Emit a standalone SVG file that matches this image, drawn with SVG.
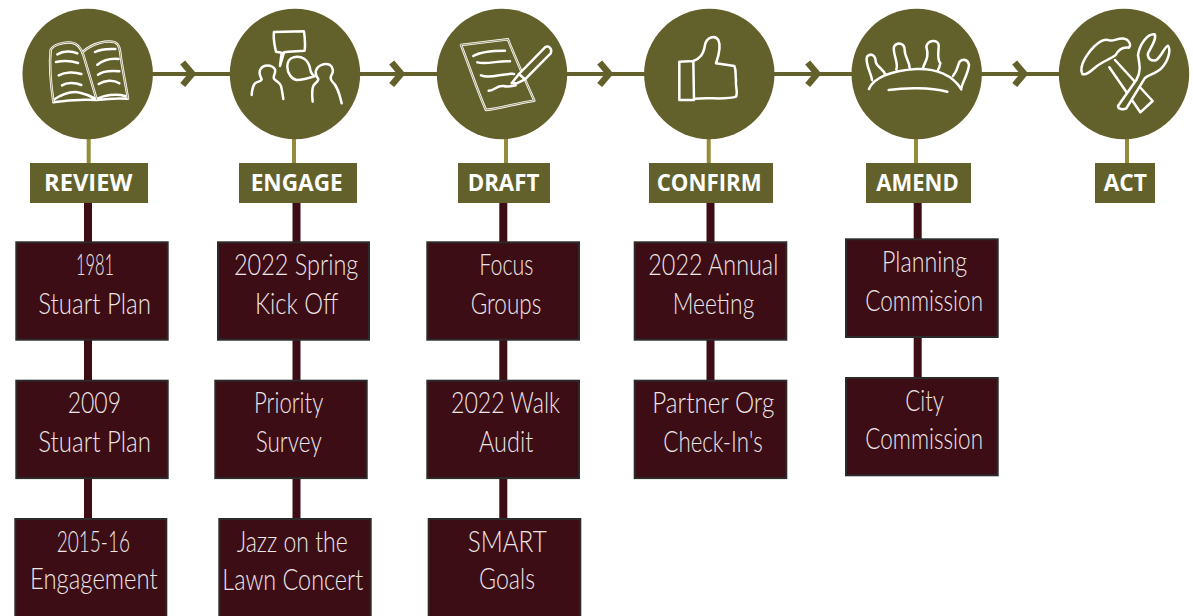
<svg xmlns="http://www.w3.org/2000/svg" width="1193" height="616" viewBox="0 0 1193 616">
<style>
.flow{stroke:#63612b;stroke-width:4;fill:none}
.chev{stroke:#63612b;stroke-width:6.500;fill:none;stroke-miterlimit:8}
.stem{stroke:#948c3b;stroke-width:4;fill:none}
.link{stroke:#3c0d15;stroke-width:8;fill:none}
.circle{fill:#63612b}
.tag{fill:#63612b}
.box{fill:#3c0d15;stroke:#2c2a2b;stroke-width:2}
.tagtext{font-family:"Open Sans","Liberation Sans",sans-serif;font-weight:700;font-size:22.5px;fill:#fff}
.boxtext{font-family:"Lato","Liberation Sans",sans-serif;font-weight:300;font-size:30px;fill:#ece6e6}
.icon{fill:none;stroke:#fff;stroke-width:7.500;stroke-linecap:round;stroke-linejoin:round}
.gap{fill:none;stroke:#63612b;stroke-width:2;stroke-linecap:round;stroke-linejoin:round}
.solid{fill:#63612b}
</style>
<defs>
<path id="chevron" class="chev" d="M182.700 62.500L192.200 73.800L182.700 85"/>
</defs>
<g id="connectors">
<path class="flow" d="M88 74H1124"/>
<use href="#chevron"/>
<use href="#chevron" x="209"/>
<use href="#chevron" x="417"/>
<use href="#chevron" x="625"/>
<use href="#chevron" x="832"/>
<path class="stem" d="M88.700 135V165M294 135V165M506 135V165M708.700 135V165M916 135V165M1127 135V165"/>
<path class="link" d="M88 203V520M296.500 203V520M503.300 203V520M710.500 203V382M917.700 203V380"/>
</g>
<g id="step-review">
<circle class="circle" cx="87.700" cy="74" r="65.200"/>
<g transform="scale(.33333)">
<path class="icon" d="M160 305C152 250 148 190 152 150C158 135 190 125 215 128C235 130 245 150 250 165L290 298M250 155C275 130 320 120 345 127C358 132 360 150 363 175C370 220 378 260 384 296M160 307C200 300 250 298 290 300C320 296 350 294 384 296M160 300C190 280 215 272 240 278C260 282 280 292 290 298C310 285 350 280 375 288"/>
<path class="gap" d="M160 305C152 250 148 190 152 150C158 135 190 125 215 128C235 130 245 150 250 165L290 298M250 155C275 130 320 120 345 127C358 132 360 150 363 175C370 220 378 260 384 296"/>
<path class="icon" d="M172 163C190 152 215 152 232 160M168 186C190 182 215 183 234 189M176 226C195 215 225 215 244 222M186 256C200 247 225 247 244 255M285 156C300 148 325 146 346 147M292 194C310 180 335 175 356 177M294 224C310 212 335 212 358 214M296 252C315 240 340 238 358 250"/>
</g>
<rect class="tag" x="30" y="163" width="118" height="40"/>
<text class="tagtext" x="44" y="190.700" textLength="88.300" lengthAdjust="spacingAndGlyphs">REVIEW</text>
</g>
<g id="step-engage">
<circle class="circle" cx="295" cy="74" r="65.200"/>
<g transform="scale(.33333)">
<path class="icon" d="M822 96L912 94C915 115 916 135 914 152L865 155L852 157L840 198L845 158L828 155C822 130 820 110 822 96ZM755 285C756 268 758 258 765 250C772 244 785 245 785 238C778 225 776 215 782 207C790 193 815 192 825 208C828 220 818 228 822 236C830 246 840 248 843 258C846 270 848 285 850 297M880 172C905 165 925 180 930 205C932 220 940 228 945 228C925 235 905 240 890 240C875 238 862 220 862 200C862 185 870 175 880 172ZM938 305C936 285 935 268 940 258C945 248 955 245 955 238C948 228 945 222 948 212C953 195 975 188 990 195C1000 202 1000 215 996 222C990 232 990 238 997 245C1012 258 1018 280 1025 310"/>
</g>
<rect class="tag" x="239" y="163" width="118" height="40"/>
<text class="tagtext" x="250.700" y="190.700" textLength="92" lengthAdjust="spacingAndGlyphs">ENGAGE</text>
</g>
<g id="step-draft">
<circle class="circle" cx="502" cy="74" r="65.200"/>
<g transform="translate(400 0) scale(.33333)">
<path class="icon" d="M183 135L324 118C340 160 380 250 403 302C350 310 300 325 258 330C235 280 205 190 183 135Z"/>
<path class="gap" d="M183 135L324 118C340 160 380 250 403 302C350 310 300 325 258 330C235 280 205 190 183 135Z"/>
<path class="icon" d="M220 168C240 155 290 152 315 152M232 187C260 195 300 180 330 184M243 226C270 238 310 218 342 222M266 272C285 272 290 255 310 258C325 262 335 258 347 256"/>
<path class="icon solid" d="M335 250L357 222L435 142C445 135 458 145 452 160L375 238L350 250Z"/>
<path class="icon" d="M357 222L375 238"/>
</g>
<rect class="tag" x="458" y="163" width="92" height="40"/>
<text class="tagtext" x="467.700" y="190.700" textLength="71.600" lengthAdjust="spacingAndGlyphs">DRAFT</text>
</g>
<g id="step-confirm">
<circle class="circle" cx="709.300" cy="74" r="65.200"/>
<g transform="translate(400 0) scale(.33333)">
<path class="icon" d="M838 185L880 183L882 300L838 300ZM880 183C900 175 910 165 915 135C920 110 945 105 955 120C965 140 955 170 948 190L1003 198C1010 215 1005 225 1008 240C1005 260 1015 275 1008 290C985 300 930 292 882 296"/>
</g>
<rect class="tag" x="649" y="163" width="124" height="40"/>
<text class="tagtext" x="656.700" y="190.700" textLength="105" lengthAdjust="spacingAndGlyphs">CONFIRM</text>
</g>
<g id="step-amend">
<circle class="circle" cx="916.700" cy="74" r="65.200"/>
<g transform="translate(793 0) scale(.33333)">
<path class="icon" d="M228 267C240 235 290 212 370 207C430 205 480 225 505 268M287 270C340 262 410 262 463 275M237 240C235 220 215 190 222 170C232 158 248 165 248 185C250 200 270 205 278 225M310 208C318 190 298 160 303 140C312 125 335 128 335 150C335 170 350 185 350 205M390 204C395 185 410 175 400 140C405 118 435 118 437 135C438 155 430 175 442 190C440 200 438 205 435 210M505 265C508 245 525 225 528 195C525 178 510 175 500 185C492 200 495 210 480 228"/>
</g>
<rect class="tag" x="866" y="163" width="105" height="40"/>
<text class="tagtext" x="876.300" y="190.700" textLength="82.400" lengthAdjust="spacingAndGlyphs">AMEND</text>
</g>
<g id="step-act">
<circle class="circle" cx="1124" cy="74" r="65.200"/>
<g transform="translate(793 0) scale(.33333)">
<path class="icon" d="M868 222C860 205 870 180 892 152C912 128 930 115 945 120C960 128 980 108 1000 118C1010 125 1015 135 1008 143C990 140 978 146 968 165C950 178 930 185 912 198C898 208 882 228 868 222ZM949 202L1042 337L1079 303L966 180"/>
<path class="icon solid" d="M975 318L1030 240C1045 215 1040 195 1035 165C1040 130 1065 100 1085 103C1092 115 1075 140 1065 160C1062 175 1075 185 1090 180C1105 170 1115 140 1125 137C1135 150 1125 185 1105 205C1090 220 1065 225 1055 235L1000 325C990 330 975 328 975 318Z"/>
</g>
<rect class="tag" x="1095" y="163" width="60" height="40"/>
<text class="tagtext" x="1103.700" y="190.700" textLength="43.300" lengthAdjust="spacingAndGlyphs">ACT</text>
</g>
<g id="box-1981">
<rect class="box" x="16.300" y="242.300" width="151.400" height="97.400"/>
<text class="boxtext" x="76" y="275" textLength="38" lengthAdjust="spacingAndGlyphs">1981</text>
<text class="boxtext" x="38.300" y="313.700" textLength="112.700" lengthAdjust="spacingAndGlyphs">Stuart Plan</text>
</g>
<g id="box-2009">
<rect class="box" x="16.300" y="380.700" width="151.400" height="97.400"/>
<text class="boxtext" x="67.700" y="412.700" textLength="53.300" lengthAdjust="spacingAndGlyphs">2009</text>
<text class="boxtext" x="38.300" y="451.700" textLength="112.700" lengthAdjust="spacingAndGlyphs">Stuart Plan</text>
</g>
<g id="box-2015">
<rect class="box" x="15.300" y="519" width="151" height="99"/>
<text class="boxtext" x="56.700" y="551.700" textLength="73.300" lengthAdjust="spacingAndGlyphs">2015-16</text>
<text class="boxtext" x="30" y="589.300" textLength="127.700" lengthAdjust="spacingAndGlyphs">Engagement</text>
</g>
<g id="box-spring">
<rect class="box" x="218" y="242.300" width="151" height="97.400"/>
<text class="boxtext" x="234" y="275" textLength="124.300" lengthAdjust="spacingAndGlyphs">2022 Spring</text>
<text class="boxtext" x="255" y="313.700" textLength="83.300" lengthAdjust="spacingAndGlyphs">Kick Off</text>
</g>
<g id="box-priority">
<rect class="box" x="215.300" y="380.700" width="151.400" height="97.400"/>
<text class="boxtext" x="254" y="412.700" textLength="69.300" lengthAdjust="spacingAndGlyphs">Priority</text>
<text class="boxtext" x="255.700" y="451.700" textLength="66" lengthAdjust="spacingAndGlyphs">Survey</text>
</g>
<g id="box-jazz">
<rect class="box" x="219.300" y="519" width="151.400" height="99"/>
<text class="boxtext" x="236.700" y="551.700" textLength="111" lengthAdjust="spacingAndGlyphs">Jazz on the</text>
<text class="boxtext" x="222.300" y="590" textLength="141" lengthAdjust="spacingAndGlyphs">Lawn Concert</text>
</g>
<g id="box-focus">
<rect class="box" x="427.300" y="242.300" width="151.700" height="97.400"/>
<text class="boxtext" x="479.300" y="275" textLength="54" lengthAdjust="spacingAndGlyphs">Focus</text>
<text class="boxtext" x="470.700" y="313.700" textLength="70.600" lengthAdjust="spacingAndGlyphs">Groups</text>
</g>
<g id="box-walk">
<rect class="box" x="427.300" y="380.700" width="151.700" height="97.400"/>
<text class="boxtext" x="451" y="412.700" textLength="109" lengthAdjust="spacingAndGlyphs">2022 Walk</text>
<text class="boxtext" x="479" y="451.700" textLength="54.300" lengthAdjust="spacingAndGlyphs">Audit</text>
</g>
<g id="box-smart">
<rect class="box" x="428.700" y="519" width="151.600" height="99"/>
<text class="boxtext" x="467.700" y="551.700" textLength="79" lengthAdjust="spacingAndGlyphs">SMART</text>
<text class="boxtext" x="479" y="589.300" textLength="56" lengthAdjust="spacingAndGlyphs">Goals</text>
</g>
<g id="box-annual">
<rect class="box" x="634.700" y="242.300" width="151.600" height="97.400"/>
<text class="boxtext" x="648.300" y="275" textLength="130" lengthAdjust="spacingAndGlyphs">2022 Annual</text>
<text class="boxtext" x="672.700" y="313.700" textLength="81.600" lengthAdjust="spacingAndGlyphs">Meeting</text>
</g>
<g id="box-partner">
<rect class="box" x="634.700" y="380.700" width="151.600" height="97.400"/>
<text class="boxtext" x="652.300" y="412.700" textLength="122" lengthAdjust="spacingAndGlyphs">Partner Org</text>
<text class="boxtext" x="663.300" y="451.700" textLength="99.400" lengthAdjust="spacingAndGlyphs">Check-In's</text>
</g>
<g id="box-planning">
<rect class="box" x="846" y="239.300" width="151.700" height="97.700"/>
<text class="boxtext" x="882" y="271.700" textLength="85" lengthAdjust="spacingAndGlyphs">Planning</text>
<text class="boxtext" x="865.300" y="311" textLength="117.700" lengthAdjust="spacingAndGlyphs">Commission</text>
</g>
<g id="box-city">
<rect class="box" x="846" y="378" width="151.700" height="97.300"/>
<text class="boxtext" x="905.300" y="411" textLength="38.700" lengthAdjust="spacingAndGlyphs">City</text>
<text class="boxtext" x="865.300" y="449" textLength="117.700" lengthAdjust="spacingAndGlyphs">Commission</text>
</g>
</svg>
